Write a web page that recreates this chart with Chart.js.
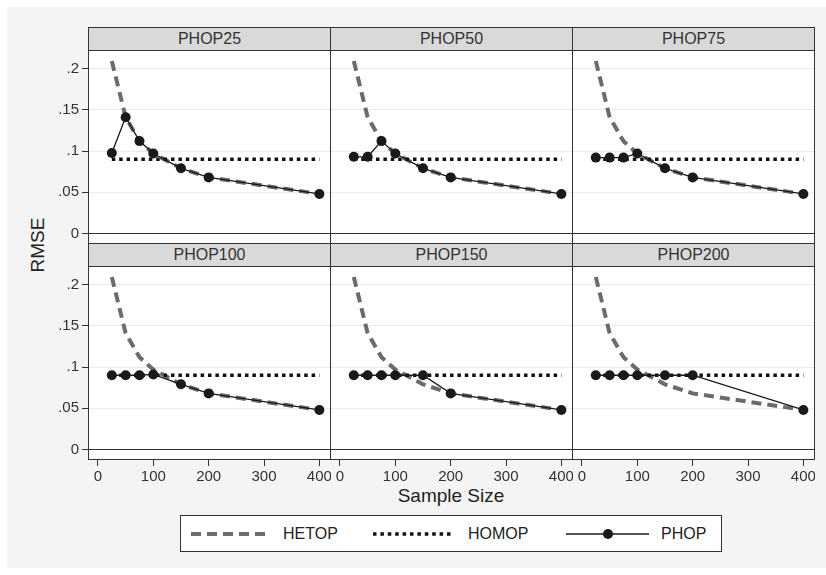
<!DOCTYPE html>
<html>
<head>
<meta charset="utf-8">
<script src="https://cdn.jsdelivr.net/npm/chart.js@4.4.1/dist/chart.umd.min.js"></script>
<style>
  body { margin: 0; background: #fff; font-family: 'Liberation Sans', Arial, Helvetica, sans-serif; }
  #wrap { position: relative; width: 826px; height: 575px; overflow: hidden; }
  #bg { position: absolute; left: 7px; top: 7px; right: 0; bottom: 7px; background: #f4f4f4; }
  .strip { position: absolute; box-sizing: border-box; height: 24px; border: 1px solid #333;
           background: #d9d9d9; color: #333; font-size: 16px; text-align: center; line-height: 22px; }
  canvas { position: absolute; }
  .axtitle { position: absolute; color: #222; font-size: 19px; white-space: nowrap; }
  #legend { position: absolute; left: 180px; top: 515px; width: 542px; height: 37px; box-sizing: border-box;
            border: 1px solid #333; background: #fff; }
  #legend span { position: absolute; top: 9px; font-size: 16px; color: #222; }
</style>
</head>
<body>
<div id="wrap">
  <div id="bg"></div>
  <div class="axtitle" id="ytitle" style="left:38px;top:245px;transform:translate(-50%,-50%) rotate(-90deg);">RMSE</div>
  <div class="axtitle" style="left:451px;top:496px;transform:translate(-50%,-50%);">Sample Size</div>
  <div id="legend">
    <svg width="540" height="35" style="position:absolute;left:0;top:0">
      <line x1="10" y1="18" x2="85" y2="18" stroke="#6b6b6b" stroke-width="4" stroke-dasharray="10 6"/>
      <line x1="192" y1="18" x2="272" y2="18" stroke="#111" stroke-width="3.5" stroke-dasharray="3.5 3.9"/>
      <line x1="385" y1="18" x2="468" y2="18" stroke="#1a1a1a" stroke-width="1.3"/>
      <circle cx="427" cy="18" r="5" fill="#1a1a1a"/>
    </svg>
    <span style="left:102px">HETOP</span>
    <span style="left:287px">HOMOP</span>
    <span style="left:480px">PHOP</span>
  </div>
</div>
<script>
// sample sizes on the x axis
const sampleSizes = [25, 50, 75, 100, 150, 200, 400];

// reference curves, identical in every panel
const hetop = [0.209, 0.141, 0.112, 0.097, 0.079, 0.068, 0.048];
const homop = [0.090, 0.090, 0.090, 0.090, 0.090, 0.090, 0.090];

// PHOP estimator, one series per panel
const panelNames = ['PHOP25', 'PHOP50', 'PHOP75', 'PHOP100', 'PHOP150', 'PHOP200'];
const phop25  = [0.0975, 0.141, 0.112, 0.097, 0.079, 0.068, 0.048];
const phop50  = [0.093, 0.093, 0.112, 0.097, 0.079, 0.068, 0.048];
const phop75  = [0.092, 0.092, 0.092, 0.097, 0.079, 0.068, 0.048];
const phop100 = [0.090, 0.090, 0.090, 0.091, 0.079, 0.068, 0.048];
const phop150 = [0.090, 0.090, 0.090, 0.090, 0.090, 0.068, 0.048];
const phop200 = [0.090, 0.090, 0.090, 0.090, 0.090, 0.090, 0.048];
const phopSeries = [phop25, phop50, phop75, phop100, phop150, phop200];

const xTicks = [0, 100, 200, 300, 400];
const yTicks = [0, 0.05, 0.1, 0.15, 0.2];
const yTickLabels = ['0', '.05', '.1', '.15', '.2'];

// panel grid geometry
const colLeft = [88, 330, 572];
const panelW = 243;
const stripTop = [27, 243];
const plotTop = [50, 266];
const plotH = 194;
const xAxisH = 32;

const FONT = "'Liberation Sans', Arial, Helvetica, sans-serif";
const wrap = document.getElementById('wrap');

// white plot background and dark frame around each panel
const panelFrame = {
  id: 'panelFrame',
  beforeDraw(chart) {
    const a = chart.chartArea, ctx = chart.ctx;
    ctx.save();
    ctx.fillStyle = '#fff';
    ctx.fillRect(a.left, a.top, a.right - a.left, a.bottom - a.top);
    ctx.restore();
  },
  afterDraw(chart) {
    const a = chart.chartArea, ctx = chart.ctx;
    ctx.save();
    ctx.strokeStyle = '#333';
    ctx.lineWidth = 1;
    ctx.strokeRect(a.left + 0.5, a.top + 0.5, a.right - a.left - 1, a.bottom - a.top - 1);
    ctx.restore();
  }
};

function pts(arr) {
  return sampleSizes.map((s, i) => ({ x: s, y: arr[i] }));
}

function makePanel(p) {
  const r = Math.floor(p / 3), c = p % 3;
  const leftAxis = c === 0, bottomAxis = r === 1;

  const strip = document.createElement('div');
  strip.className = 'strip';
  strip.style.left = colLeft[c] + 'px';
  strip.style.top = stripTop[r] + 'px';
  strip.style.width = panelW + 'px';
  strip.textContent = panelNames[p];
  wrap.appendChild(strip);

  const axisW = leftAxis ? colLeft[0] : 0;
  const axisH = bottomAxis ? xAxisH : 0;
  const cv = document.createElement('canvas');
  const w = axisW + panelW, h = plotH + axisH;
  cv.width = w; cv.height = h;
  cv.style.width = w + 'px'; cv.style.height = h + 'px';
  cv.style.left = (colLeft[c] - axisW) + 'px';
  cv.style.top = plotTop[r] + 'px';
  wrap.appendChild(cv);

  new Chart(cv, {
    type: 'line',
    data: {
      datasets: [
        { label: 'PHOP', data: pts(phopSeries[p]), borderColor: '#1a1a1a', borderWidth: 1.3,
          pointRadius: 5, pointBackgroundColor: '#1a1a1a', pointBorderWidth: 0 },
        { label: 'HOMOP', data: pts(homop), borderColor: '#111', borderWidth: 3.5,
          borderDash: [3.5, 3.9], pointRadius: 0 },
        { label: 'HETOP', data: pts(hetop), borderColor: '#6b6b6b', borderWidth: 4,
          borderDash: [10, 6], pointRadius: 0 }
      ]
    },
    options: {
      responsive: false,
      animation: false,
      events: [],
      layout: { padding: 0, autoPadding: false },
      plugins: { legend: { display: false }, tooltip: { enabled: false } },
      scales: {
        x: {
          type: 'linear', min: -18, max: 421,
          afterBuildTicks: s => { s.ticks = xTicks.map(v => ({ value: v })); },
          afterFit: s => { s.height = axisH; s.paddingLeft = 0; s.paddingRight = 0; },
          border: { display: false },
          grid: { drawOnChartArea: false, drawTicks: bottomAxis, tickLength: 6, tickColor: '#333' },
          ticks: { display: bottomAxis, padding: 2, color: '#333', maxRotation: 0,
                   font: { family: FONT, size: 15 } }
        },
        y: {
          min: -0.0127, max: 0.2224,
          afterBuildTicks: s => { s.ticks = yTicks.map(v => ({ value: v })); },
          afterFit: s => { s.width = axisW; s.paddingTop = 0; s.paddingBottom = 0; },
          border: { display: false },
          grid: {
            color: ctx => (ctx.tick && ctx.tick.value === 0) ? '#333' : '#ebebeb',
            drawTicks: leftAxis, tickLength: 6, tickColor: '#333'
          },
          ticks: { display: leftAxis, padding: 3, color: '#333',
                   font: { family: FONT, size: 15 },
                   callback: (v, i) => yTickLabels[i] }
        }
      }
    },
    plugins: [panelFrame]
  });
}

for (let p = 0; p < 6; p++) makePanel(p);
</script>
</body>
</html>
